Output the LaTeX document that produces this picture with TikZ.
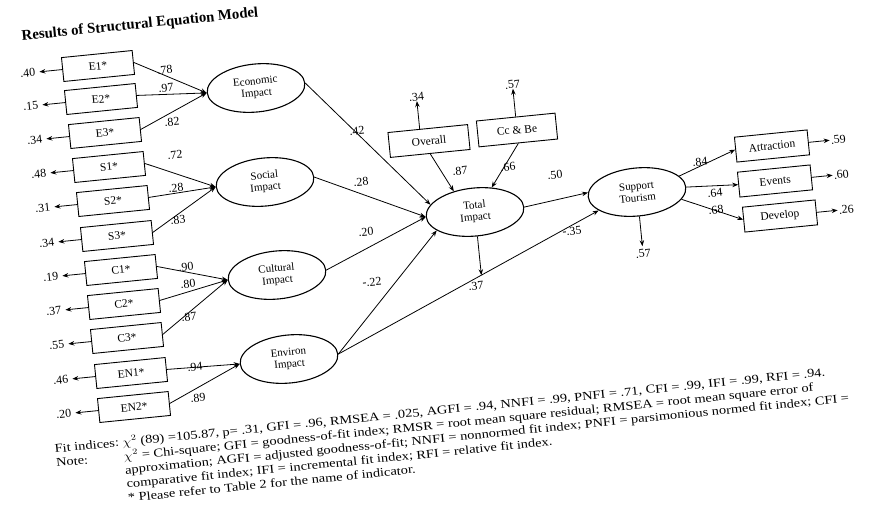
\documentclass[tikz,border=0pt]{standalone}
\usepackage{fontspec}
\setmainfont{Liberation Serif}
\usetikzlibrary{shapes.geometric,arrows.meta,calc}
\begin{document}
\begin{tikzpicture}[x=1pt,y=-1pt,
  R/.style={rotate=5.7},
  ind/.style={draw, R, minimum width=71pt, minimum height=24pt, inner sep=1pt, line width=0.9pt, font=\fontsize{11.5}{12}\selectfont},
  rbox/.style={ind, minimum width=73pt, minimum height=25pt},
  lat/.style={draw, ellipse, R, minimum width=98pt, minimum height=48pt, inner sep=0pt, line width=1.1pt, align=center, font=\fontsize{11}{12}\selectfont},
  lbl/.style={R, inner sep=1pt, font=\fontsize{12}{13}\selectfont},
  arr/.style={-{Stealth[length=6pt,width=4.5pt]}, line width=0.8pt}]
\path[use as bounding box] (0,0) rectangle (877,517);

% title
\node[R, font=\fontsize{14.8}{16}\selectfont\bfseries] (title) at (140,25) {Results of Structural Equation Model};

% indicator boxes (left)
\node[ind] (e1) at (98,66) {E1*};
\node[ind] (e2) at (101,99) {E2*};
\node[ind] (e3) at (105,133) {E3*};
\node[ind] (s1) at (109,167) {S1*};
\node[ind] (s2) at (113,201) {S2*};
\node[ind] (s3) at (117,236) {S3*};
\node[ind] (c1) at (121,270) {C1*};
\node[ind] (c2) at (124,304) {C2*};
\node[ind] (c3) at (127,338) {C3*};
\node[ind] (n1) at (131,373) {EN1*};
\node[ind] (n2) at (134,407) {EN2*};

% latent variables
\node[lat] (eco) at (256,88) {Economic\\Impact};
\node[lat] (soc) at (265,182) {Social\\Impact};
\node[lat] (cul) at (277,275) {Cultural\\Impact};
\node[lat] (env) at (289,359) {Environ\\Impact};
\node[lat] (tot) at (475,212) {Total\\Impact};
\node[lat] (sup) at (637,192) {Support\\Tourism};

% indicators of Total
\node[rbox, minimum width=80pt] (ov) at (429,141) {Overall};
\node[rbox, minimum width=79pt, minimum height=26pt] (cb) at (517,130) {Cc \& Be};

% indicators of Support
\node[rbox] (att) at (772,146) {Attraction};
\node[rbox] (evt) at (775,181) {Events};
\node[rbox] (dev) at (780,216) {Develop};

% error arrows (left)
\foreach \n/\v in {e1/.40,e2/.15,e3/.34,s1/.48,s2/.31,s3/.34,c1/.19,c2/.37,c3/.55,n1/.46,n2/.20}{
  \coordinate (\n x) at ($(\n.west)!-23pt!(\n.east)$);
  \draw[arr] (\n.west) -- (\n x);
  \node[lbl, anchor=east, inner sep=4pt] (\n l) at (\n x) {\v};
}
% error arrows (right)
\foreach \n/\v in {att/.59,evt/.60,dev/.26}{
  \coordinate (\n x) at ($(\n.east)!-21pt!(\n.west)$);
  \draw[arr] (\n.east) -- (\n x);
  \node[lbl, anchor=west, inner sep=1pt] (\n l) at (\n x) {\v};
}
% error arrows (top)
\coordinate (ovs) at ($(ov.north)!0.2!(ov.north west)$);
\coordinate (ovx) at ($(ovs)!-28pt!($(ov.south)!0.2!(ov.south west)$)$);
\draw[arr] (ovs) -- (ovx);
\node[lbl, anchor=south, inner sep=0pt] (ovl) at (ovx) {.34};
\coordinate (cbx) at ($(cb.north)!-28pt!(cb.south)$);
\draw[arr] (cb.north) -- (cbx);
\node[lbl, anchor=south, inner sep=0pt] (cbl) at (cbx) {.57};

% measurement paths (left)
\foreach \n in {e1,e2,e3} \draw[arr] (\n.east) -- (eco.west);
\foreach \n in {s1,s2,s3} \draw[arr] (\n.east) -- (soc.west);
\foreach \n in {c1,c2,c3} \draw[arr] (\n.east) -- (cul.west);
\foreach \n in {n1,n2} \draw[arr] (\n.east) -- (env.west);

\node[lbl] (le1) at (165,70) {.78};
\node[lbl] (le2) at (166,88) {.97};
\node[lbl] (le3) at (172,122) {.82};
\node[lbl] (ls1) at (175,155) {.72};
\node[lbl] (ls2) at (176,188) {.28};
\node[lbl] (ls3) at (178,220) {.83};
\node[lbl] (lc1) at (186,267) {.90};
\node[lbl] (lc2) at (188,284) {.80};
\node[lbl] (lc3) at (189,317) {.87};
\node[lbl] (ln1) at (195,367) {.94};
\node[lbl] (ln2) at (198,398) {.89};

% structural paths
\draw[arr] (eco.east) -- (tot.165);
\draw[arr] (soc.east) -- (tot.west);
\draw[arr] (cul.east) -- (tot.west);
\draw[arr] (env.east) -- (tot.200);
\draw[arr] (ov.south) -- (tot.130);
\draw[arr] (cb.south) -- (tot.50);
\draw[arr] (tot.east) -- (sup.175);
\draw[arr] (env.east) -- (sup.200);

\node[lbl] (lec) at (357,131) {.42};
\node[lbl] (lso) at (361,182) {.28};
\node[lbl] (lcu) at (366,232) {.20};
\node[lbl] (len) at (372,282) {-.22};
\node[lbl] (lov) at (460,171) {.87};
\node[lbl] (lcb) at (508,167) {.66};
\node[lbl] (lts) at (555,175) {.50};
\node[lbl] (les) at (572,231) {-.35};

% residual of Total
\coordinate (td) at ($(tot.south)!-60pt!(tot.north)$);
\coordinate (tr) at (intersection of tot.south--td and env.east--sup.200);
\draw[arr] (tot.south) -- (tr);
\node[lbl] (ltr) at (476,286) {.37};

% residual of Support
\coordinate (sx) at ($(sup.south)!-30pt!(sup.north)$);
\draw[arr] (sup.south) -- (sx);
\node[lbl, anchor=north, inner sep=3pt] (lsr) at (sx) {.57};

% support indicators
\draw[arr] (sup.15) -- (att.west);
\draw[arr] (sup.east) -- (evt.west);
\draw[arr] (sup.-15) -- (dev.west);
\node[lbl] (lat1) at (700,162) {.84};
\node[lbl] (lat2) at (715,193) {.64};
\node[lbl] (lat3) at (716,210) {.68};

% footnote
\node[R, anchor=north west, inner sep=0pt, font=\fontsize{12}{14}\selectfont] (note) at (54,443) {%
\scalebox{1.2}[1]{\begin{tabular}[t]{@{}l@{\hspace{3pt}}l@{}}
Fit indices: & $\chi^2$ (89) =105.87, p= .31, GFI = .96, RMSEA = .025, AGFI = .94, NNFI = .99, PNFI = .71, CFI = .99, IFI = .99, RFI = .94.\\
Note: & $\chi^2$ = Chi-square; GFI = goodness-of-fit index; RMSR = root mean square residual; RMSEA = root mean square error of\\
 & approximation; AGFI = adjusted goodness-of-fit; NNFI = nonnormed fit index; PNFI = parsimonious normed fit index; CFI =\\
 & comparative fit index; IFI = incremental fit index; RFI = relative fit index.\\
 & * Please refer to Table 2 for the name of indicator.
\end{tabular}}};
\end{tikzpicture}
\end{document}
